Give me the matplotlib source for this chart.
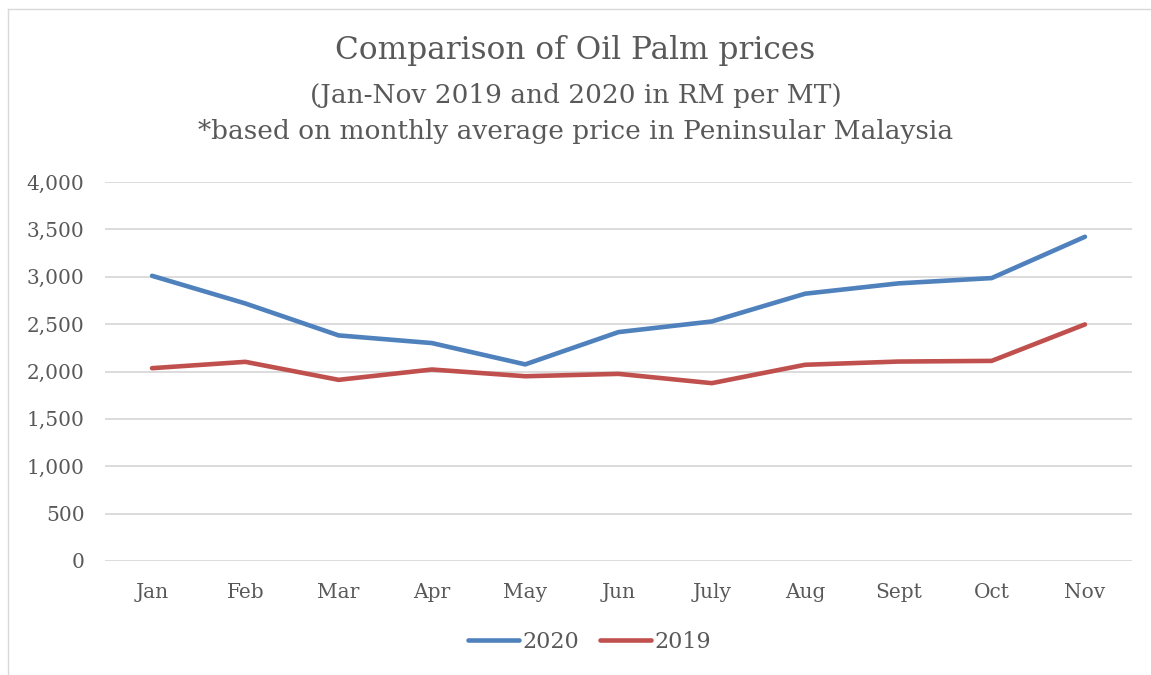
import matplotlib as mpl
mpl.use('Agg')
import matplotlib.pyplot as plt
from matplotlib.lines import Line2D
from matplotlib.ticker import FuncFormatter, MultipleLocator

months = ['Jan', 'Feb', 'Mar', 'Apr', 'May', 'Jun', 'July', 'Aug', 'Sept', 'Oct', 'Nov']
prices_2020 = [3010, 2718, 2381, 2300, 2075, 2416, 2528, 2821, 2930, 2986, 3422]
prices_2019 = [2035, 2102, 1912, 2021, 1950, 1975, 1877, 2071, 2105, 2112, 2497]

plt.rcParams['font.family'] = ['DejaVu Serif']
grey = '#595959'

fig = plt.figure(figsize=(11.51, 6.75), dpi=100)
# chart-area border, only top and left edges visible in the crop
fig.add_artist(Line2D([8 / 1151, 8 / 1151], [0, 1 - 9 / 675],
                      transform=fig.transFigure, color='#d9d9d9', linewidth=1.0))
fig.add_artist(Line2D([8 / 1151, 1.0], [1 - 9 / 675, 1 - 9 / 675],
                      transform=fig.transFigure, color='#d9d9d9', linewidth=1.0))

ax = fig.add_axes([105.4 / 1151, 1 - 561 / 675, (1131.6 - 105.4) / 1151, (561 - 182) / 675])
x = list(range(len(months)))
ax.plot(x, prices_2020, color='#4f81bd', linewidth=3.3, solid_capstyle='round', label='2020')
ax.plot(x, prices_2019, color='#c0504d', linewidth=3.3, solid_capstyle='round', label='2019')

ax.set_xlim(-0.5, len(months) - 0.5)
ax.set_ylim(0, 4000)
ax.yaxis.set_major_locator(MultipleLocator(500))
ax.yaxis.set_major_formatter(FuncFormatter(lambda v, p: f'{int(v):,}'))
ax.set_xticks(x)
ax.set_xticklabels(months)
ax.grid(axis='y', color='#d9d9d9', linewidth=1.3)
ax.set_axisbelow(True)
for s in ax.spines.values():
    s.set_visible(False)
ax.tick_params(length=0, labelsize=14.5, colors=grey)
ax.tick_params(axis='y', pad=15)
ax.tick_params(axis='x', pad=16)

fig.text(0.5, 1 - 51 / 675, 'Comparison of Oil Palm prices', ha='center', va='center',
         fontsize=22.5, color=grey)
fig.text(0.5, 1 - 96 / 675, '(Jan-Nov 2019 and 2020 in RM per MT)', ha='center', va='center',
         fontsize=19, color=grey)
fig.text(0.5, 1 - 131 / 675, '*based on monthly average price in Peninsular Malaysia',
         ha='center', va='center', fontsize=19, color=grey)

fig.legend(loc='center', bbox_to_anchor=(0.5 + 14 / 1151, 1 - 642 / 675), ncol=2,
           frameon=False, fontsize=16, labelcolor=grey, handlelength=2.3,
           handletextpad=0.15, columnspacing=0.9)

plt.savefig('out.png', dpi=100)
